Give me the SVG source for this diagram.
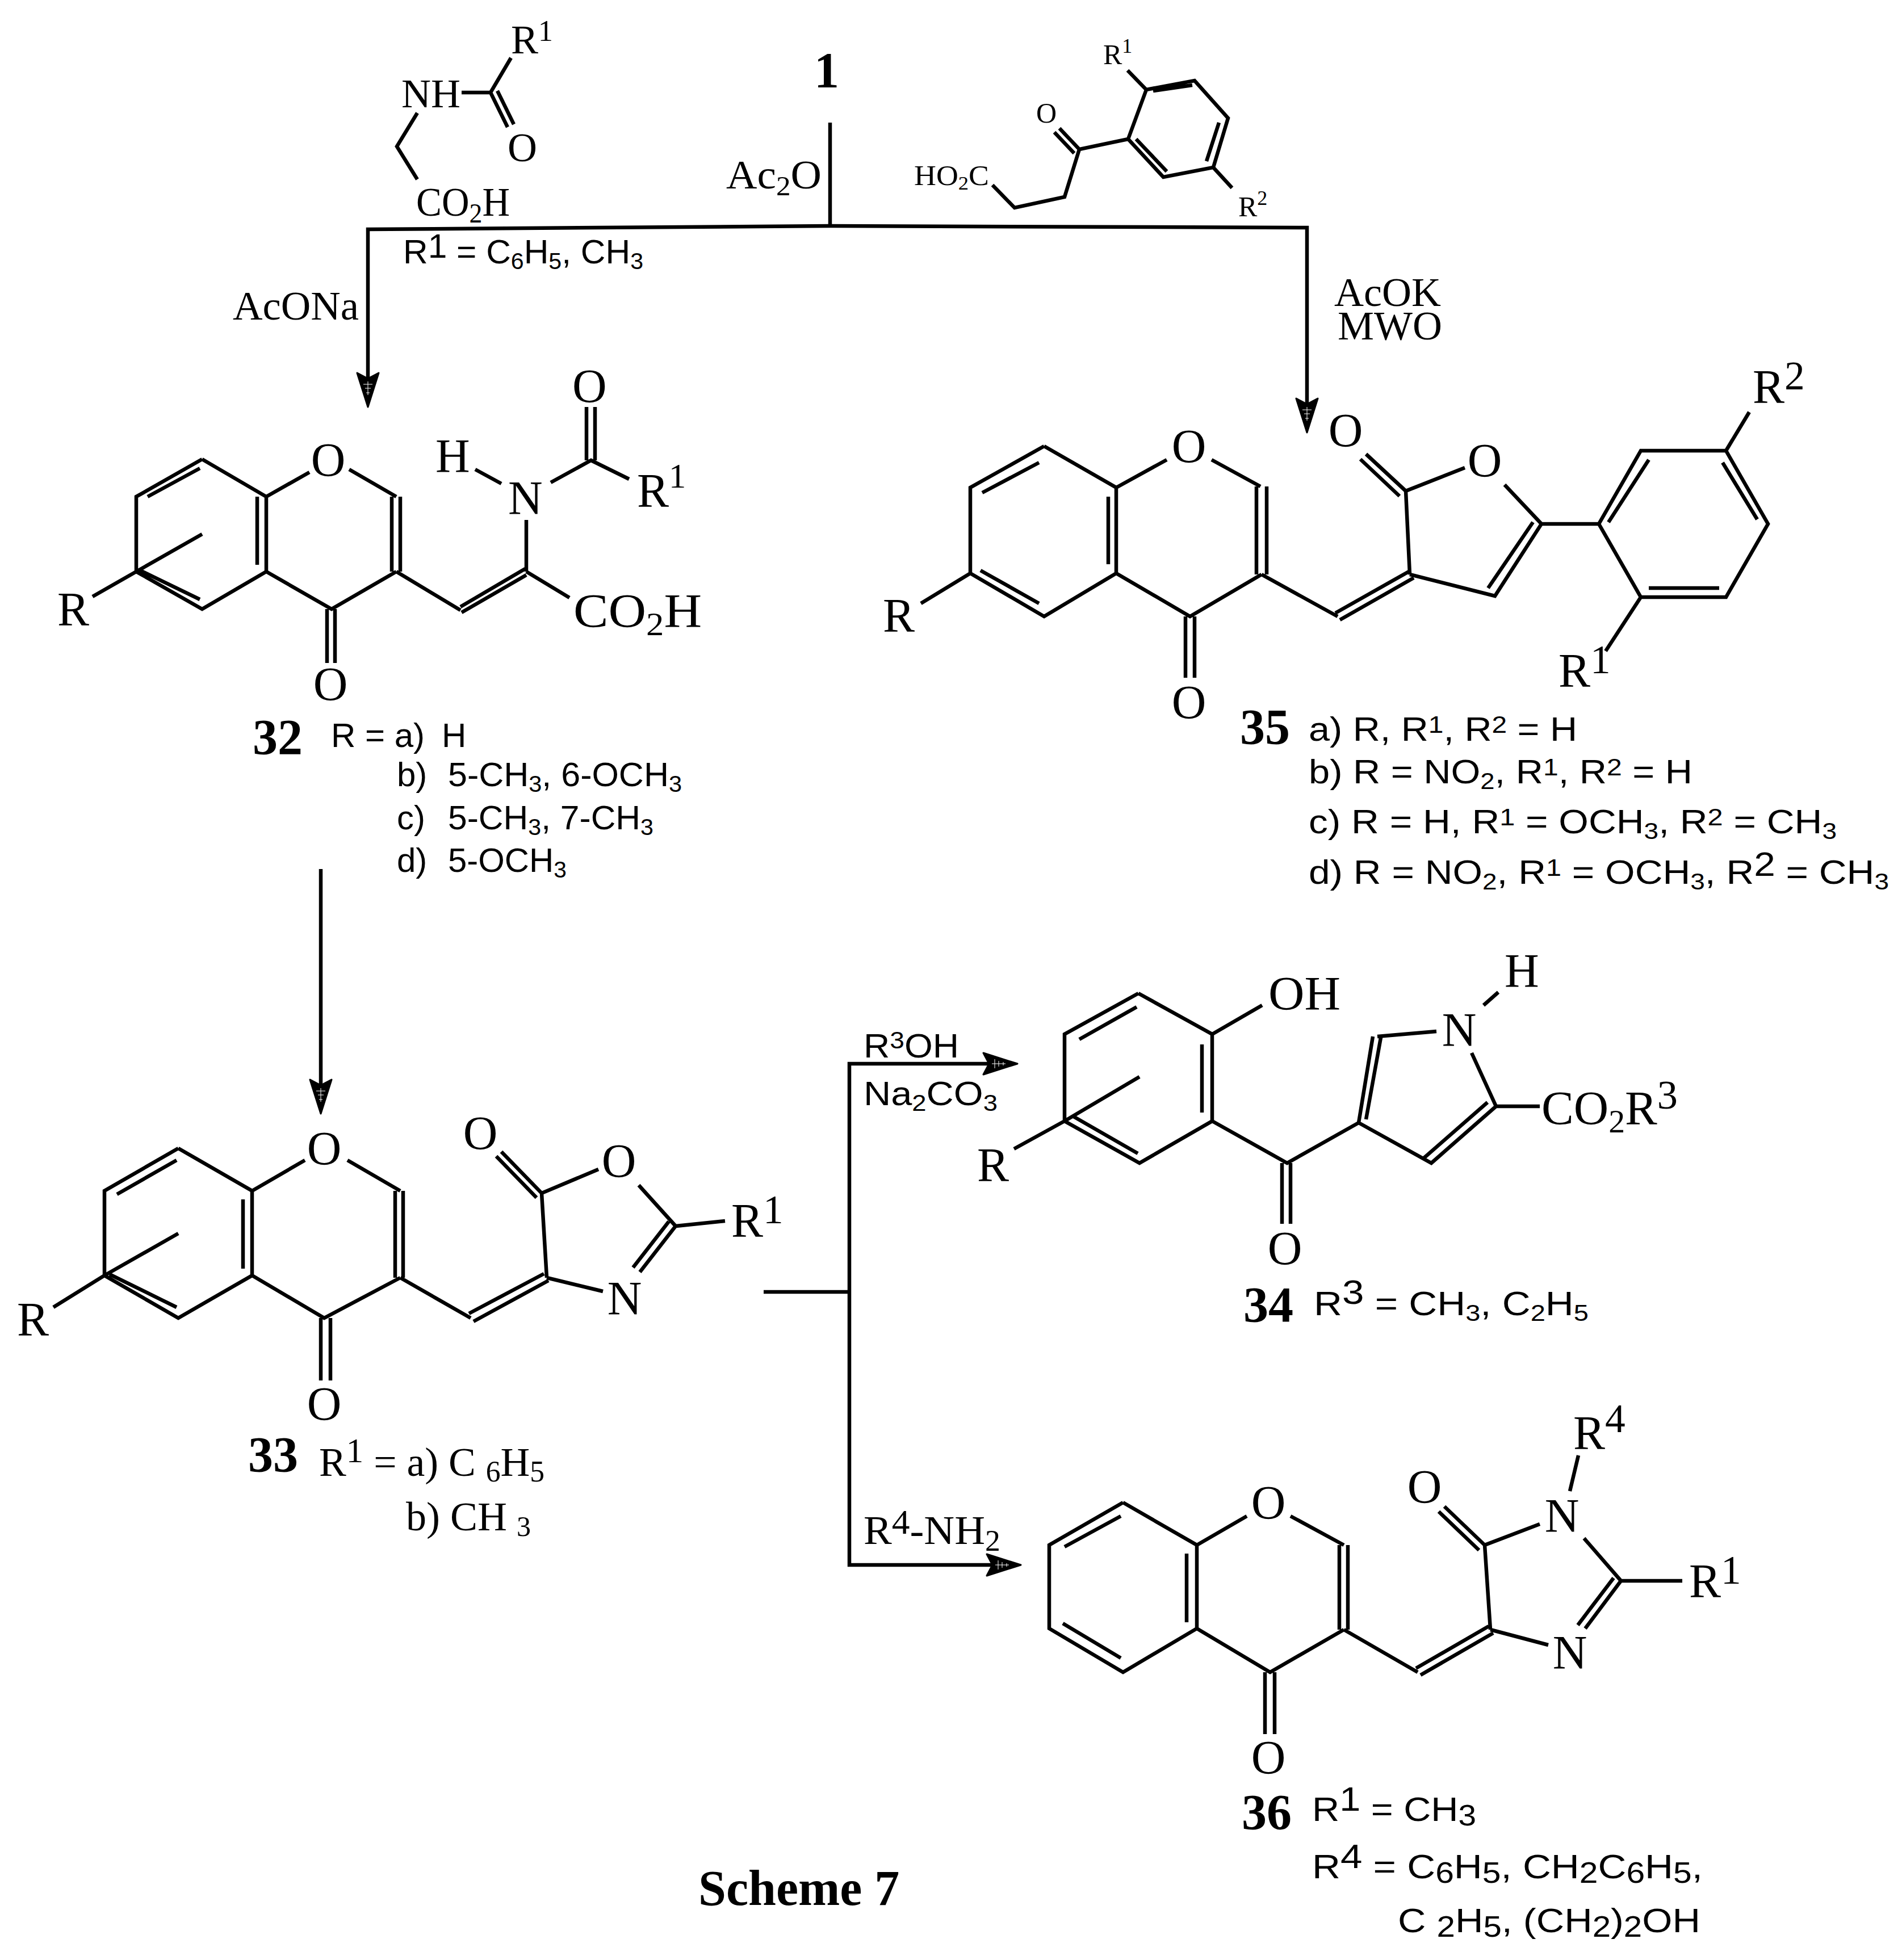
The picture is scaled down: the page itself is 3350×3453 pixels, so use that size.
<svg xmlns="http://www.w3.org/2000/svg" width="3350" height="3453" viewBox="0 0 3350 3453">
<style>
text{font-family:"Liberation Serif","Times New Roman",serif;fill:#000;font-size:84px}
.bond{fill:none;stroke:#000;stroke-width:6.5;stroke-linejoin:miter;stroke-linecap:butt}
.conn{fill:none;stroke:#000;stroke-width:6.5}
.arrow{marker-end:url(#head)}
.sm{font-size:72px}
.xs{font-size:50px}
.sans{font-family:"Liberation Sans",Arial,sans-serif;font-size:60px}
.lab{font-weight:bold;font-size:88px}
.m{text-anchor:middle}
.sub{font-size:.68em}
.sup{font-size:.72em}
.big{font-size:.85em}
</style>
<defs>
<marker id="head" markerUnits="userSpaceOnUse" orient="auto" refX="52" refY="20" markerWidth="66" markerHeight="44" overflow="visible">
<path d="M1,1 L61,20 L1,39 L11,20 Z" fill="#000" stroke="#000" stroke-width="3" stroke-linejoin="round"/>
<path d="M16,20 H40 M21,12 V28 M28,15 V25 M36,17 V23" stroke="#fff" stroke-width="1" fill="none"/>
</marker>
</defs>
<rect width="3350" height="3453" fill="#fff"/>

<g id="connectors">
<path class="conn" d="M1462,216 V398"/>
<path class="conn arrow" d="M1462,398 L648,404 V708"/>
<path class="conn arrow" d="M1462,398 L2302,401 V753"/>
<path class="conn arrow" d="M565,1531 V1953"/>
<path class="conn" d="M1345,2276 H1496"/>
<path class="conn arrow" d="M1496,2276 V1874 H1783"/>
<path class="conn arrow" d="M1496,2276 V2757 H1789"/>
</g>

<g id="start-1"><text class="lab m" x="1456" y="153">1</text></g>

<g id="cond-ac2o"><text class="sm" x="1279" y="332" textLength="168" lengthAdjust="spacingAndGlyphs">Ac<tspan class="sub" dy="12">2</tspan><tspan dy="-12">O</tspan></text></g>
<g id="cond-acona"><text class="sm" x="410" y="563" textLength="222" lengthAdjust="spacingAndGlyphs">AcONa</text></g>
<g id="cond-acok"><text class="sm" x="2350" y="539">AcOK</text><text class="sm" x="2356" y="598">MWO</text></g>
<g id="cond-r3oh"><text class="sans" x="1521" y="1863" textLength="168" lengthAdjust="spacingAndGlyphs">R<tspan class="sup" dy="-16">3</tspan><tspan dy="16">OH</tspan></text><text class="sans" x="1521" y="1947" textLength="236" lengthAdjust="spacingAndGlyphs">Na<tspan class="sub" dy="10">2</tspan><tspan dy="-10">CO</tspan><tspan class="sub" dy="10">3</tspan></text></g>
<g id="cond-r4nh2"><text class="sm" x="1521" y="2720" textLength="241" lengthAdjust="spacingAndGlyphs">R<tspan class="big" dy="-18">4</tspan><tspan dy="18">-NH</tspan><tspan class="sup" dy="12">2</tspan></text></g>

<g id="reagent-amide">
<path class="bond" d="M900,102 L864,163 H813 M735,199 L699,258 L735,316 M864,163 L894,224 M876,160 L905,219"/>
<text class="sm" x="900" y="94">R<tspan class="sup" dy="-22">1</tspan></text>
<text class="sm" x="707" y="189">NH</text>
<text class="sm" x="894" y="284">O</text>
<text class="sm" x="733" y="380" textLength="165" lengthAdjust="spacingAndGlyphs">CO<tspan class="sub" dy="12">2</tspan><tspan dy="-12">H</tspan></text>
<text class="sans" x="710" y="464" textLength="423" lengthAdjust="spacingAndGlyphs">R<tspan dy="-10">1</tspan><tspan dy="10"> = C</tspan><tspan class="sub" dy="10">6</tspan><tspan dy="-10">H</tspan><tspan class="sub" dy="10">5</tspan><tspan dy="-10">, CH</tspan><tspan class="sub" dy="10">3</tspan></text>
</g>

<g id="reagent-ketoacid">
<path class="bond" d="M1986,124 L2019,158 L2104,142 L2163,208 L2137,295 L2049,312 L1987,245 L2019,158 M2031,160 L2100,150 M2147,216 L2125,284 M2001,245 L2055,302 M1987,245 L1901,263 L1875,347 L1787,366 L1748,326 M1901,263 L1866,226 M1892,270 L1857,233 M2137,295 L2170,331"/>
<text class="xs" x="1943" y="113">R<tspan class="sup" dy="-20">1</tspan></text>
<text class="xs" x="1825" y="216">O</text>
<text class="xs" x="1610" y="326" textLength="132" lengthAdjust="spacingAndGlyphs">HO<tspan class="sub" dy="8">2</tspan><tspan dy="-8">C</tspan></text>
<text class="xs" x="2181" y="381">R<tspan class="sup" dy="-20">2</tspan></text>
</g>

<g id="compound-32">
<path class="bond" d="M356,809 L240,875 V1007 L356,1073 L469,1007 V875 L356,809 M260,875 L352,825 M247,1005 L352,1056 M453,875 V995 M240,1007 L356,941 M240,1007 L163,1051 M469,875 L545,832 M615,827 L698,875 M690,875 V1007 M705,875 V1007 M698,1007 L584,1073 L469,1007 M576,1073 V1168 M590,1073 V1168 M698,1007 L811,1075 M811,1069 L925,1002 M813,1079 L927,1013 M927,1007 L1003,1053 M927,1007 V916 M837,827 L883,852 M970,850 L1041,811 L1108,844 M1033,811 V717 M1048,811 V717"/>
<text class="m" x="578" y="839">O</text>
<text class="m" x="582" y="1234">O</text>
<text x="101" y="1102">R</text>
<text x="767" y="832">H</text>
<text x="895" y="906">N</text>
<text x="1008" y="709">O</text>
<text x="1122" y="893">R<tspan class="sup" dy="-34">1</tspan></text>
<text x="1010" y="1105" textLength="226" lengthAdjust="spacingAndGlyphs">CO<tspan class="sub" dy="14">2</tspan><tspan dy="-14">H</tspan></text>
<text class="lab" x="445" y="1328">32</text>
<text class="sans" x="583" y="1316">R = a)</text><text class="sans" x="778" y="1316">H</text>
<text class="sans" x="699" y="1385">b)</text><text class="sans" x="789" y="1385" textLength="412" lengthAdjust="spacingAndGlyphs">5-CH<tspan class="sub" dy="10">3</tspan><tspan dy="-10">, 6-OCH</tspan><tspan class="sub" dy="10">3</tspan></text>
<text class="sans" x="699" y="1461">c)</text><text class="sans" x="789" y="1461" textLength="362" lengthAdjust="spacingAndGlyphs">5-CH<tspan class="sub" dy="10">3</tspan><tspan dy="-10">, 7-CH</tspan><tspan class="sub" dy="10">3</tspan></text>
<text class="sans" x="699" y="1536">d)</text><text class="sans" x="789" y="1536" textLength="209" lengthAdjust="spacingAndGlyphs">5-OCH<tspan class="sub" dy="10">3</tspan></text>
</g>

<g id="compound-35">
<path class="bond" d="M1839,786 L1709,859 V1010 L1839,1086 L1966,1010 V859 L1839,786 M1730,868 L1830,815 M1727,1005 L1830,1063 M1952,875 V994 M1622,1063 L1709,1010 M1966,859 L2055,810 M2134,810 L2220,857 M2213,857 V1012 M2231,857 V1012 M2222,1012 L2096,1086 L1966,1010 M2088,1086 V1194 M2104,1086 V1194 M2222,1012 L2356,1086 M2483,1006 L2352,1080 M2490,1018 L2360,1092 M2483,1012 L2476,865 L2580,824 M2476,865 L2406,800 M2465,874 L2396,809 M2650,854 L2715,923 L2633,1050 L2483,1012 M2700,920 L2621,1036 M2715,923 H2816 L2890,794 H3040 L3114,923 L3040,1052 H2890 L2816,923 M2833,920 L2904,810 M3034,815 L3095,915 M2904,1036 H3028 M3040,794 L3081,726 M2890,1052 L2828,1147"/>
<text class="m" x="2094" y="815">O</text>
<text class="m" x="2094" y="1266">O</text>
<text class="m" x="2370" y="787">O</text>
<text class="m" x="2615" y="840">O</text>
<text x="1555" y="1113">R</text>
<text x="3087" y="710">R<tspan class="big" dy="-24">2</tspan></text>
<text x="2745" y="1210">R<tspan class="big" dy="-24">1</tspan></text>
<text class="lab" x="2184" y="1310">35</text>
<text class="sans" x="2305" y="1305" textLength="473" lengthAdjust="spacingAndGlyphs">a) R, R<tspan class="sup" dy="-14">1</tspan><tspan dy="14">, R</tspan><tspan class="sup" dy="-14">2</tspan><tspan dy="14"> = H</tspan></text>
<text class="sans" x="2305" y="1380" textLength="676" lengthAdjust="spacingAndGlyphs">b) R = NO<tspan class="sub" dy="10">2</tspan><tspan dy="-10">, R</tspan><tspan class="sup" dy="-14">1</tspan><tspan dy="14">, R</tspan><tspan class="sup" dy="-14">2</tspan><tspan dy="14"> = H</tspan></text>
<text class="sans" x="2305" y="1468" textLength="930" lengthAdjust="spacingAndGlyphs">c) R = H, R<tspan class="sup" dy="-14">1</tspan><tspan dy="14"> = OCH</tspan><tspan class="sub" dy="10">3</tspan><tspan dy="-10">, R</tspan><tspan class="sup" dy="-14">2</tspan><tspan dy="14"> = CH</tspan><tspan class="sub" dy="10">3</tspan></text>
<text class="sans" x="2305" y="1557" textLength="1022" lengthAdjust="spacingAndGlyphs">d) R = NO<tspan class="sub" dy="10">2</tspan><tspan dy="-10">, R</tspan><tspan class="sup" dy="-14">1</tspan><tspan dy="14"> = OCH</tspan><tspan class="sub" dy="10">3</tspan><tspan dy="-10">, R</tspan><tspan dy="-14">2</tspan><tspan dy="14"> = CH</tspan><tspan class="sub" dy="10">3</tspan></text>
</g>

<g id="compound-33">
<path class="bond" d="M314,2023 L184,2098 V2247 L314,2322 L444,2247 V2098 L314,2023 M206,2104 L311,2044 M193,2245 L311,2303 M428,2113 V2235 M184,2247 L314,2173 M184,2247 L94,2303 M444,2098 L537,2044 M612,2044 L705,2098 M696,2098 V2251 M710,2098 V2251 M705,2251 L571,2322 L444,2247 M565,2322 V2432 M582,2322 V2432 M705,2251 L829,2322 M958,2244 L826,2314 M966,2256 L834,2328 M963,2251 L954,2102 L1054,2060 M954,2102 L883,2029 M945,2110 L874,2037 M1125,2088 L1190,2160 L1277,2151 M1190,2160 L1127,2241 M1178,2152 L1115,2233 M963,2251 L1062,2275"/>
<text class="m" x="571" y="2052">O</text>
<text class="m" x="571" y="2502">O</text>
<text class="m" x="846" y="2025">O</text>
<text class="m" x="1090" y="2074">O</text>
<text class="m" x="1100" y="2316">N</text>
<text x="30" y="2353">R</text>
<text x="1288" y="2179">R<tspan class="big" dy="-24">1</tspan></text>
<text class="lab" x="437" y="2592">33</text>
<text class="sm" x="562" y="2600" textLength="397" lengthAdjust="spacingAndGlyphs">R<tspan class="big" dy="-24">1</tspan><tspan dy="24"> = a) C </tspan><tspan class="sup" dy="10">6</tspan><tspan dy="-10">H</tspan><tspan class="sup" dy="10">5</tspan></text>
<text class="sm" x="715" y="2696">b) CH</text><text x="910" y="2706" style="font-size:50px">3</text>
</g>

<g id="compound-34">
<path class="bond" d="M2005,1750 L1875,1822 V1975 L2007,2049 L2135,1975 V1822 L2005,1750 M1901,1831 L2002,1774 M1889,1966 L2004,2032 M2117,1840 V1960 M1875,1975 L2007,1897 M1875,1975 L1786,2024 M2135,1822 L2223,1771 M2135,1975 L2267,2049 L2393,1978 M2258,2049 V2156 M2273,2049 V2156 M2418,1826 L2393,1978 M2432,1828 L2406,1972 M2426,1826 L2530,1817 M2393,1978 L2521,2049 L2635,1949 M2508,2040 L2620,1942 M2592,1855 L2635,1949 H2712 M2613,1771 L2639,1748"/>
<text x="2234" y="1779" textLength="127" lengthAdjust="spacingAndGlyphs">OH</text>
<text x="1721" y="2081">R</text>
<text class="m" x="2263" y="2228">O</text>
<text class="m" x="2570" y="1843">N</text>
<text x="2650" y="1739">H</text>
<text x="2715" y="1981" textLength="240" lengthAdjust="spacingAndGlyphs">CO<tspan class="sub" dy="14">2</tspan><tspan dy="-14">R</tspan><tspan class="big" dy="-28">3</tspan></text>
<text class="lab" x="2190" y="2328">34</text>
<text class="sans" x="2314" y="2317" textLength="484" lengthAdjust="spacingAndGlyphs">R<tspan dy="-20">3</tspan><tspan dy="20">  = CH</tspan><tspan class="sub" dy="10">3</tspan><tspan dy="-10">, C</tspan><tspan class="sub" dy="10">2</tspan><tspan dy="-10">H</tspan><tspan class="sub" dy="10">5</tspan></text>
</g>

<g id="compound-36">
<path class="bond" d="M1978,2647 L1848,2722 V2869 L1978,2946 L2108,2869 V2722 L1978,2647 M1875,2725 L1974,2671 M1872,2860 L1974,2921 M2090,2737 V2858 M2108,2722 L2196,2671 M2273,2671 L2367,2722 M2359,2722 V2871 M2374,2722 V2871 M2367,2871 L2237,2946 L2108,2869 M2228,2946 V3055 M2245,2946 V3055 M2367,2871 L2497,2946 M2622,2865 L2494,2939 M2630,2877 L2502,2951 M2625,2871 L2615,2722 L2712,2685 M2615,2722 L2544,2654 M2605,2731 L2534,2663 M2780,2564 L2765,2627 M2790,2710 L2855,2785 H2963 M2855,2785 L2792,2869 M2842,2780 L2779,2863 M2625,2871 L2727,2898"/>
<text class="m" x="2234" y="2676">O</text>
<text class="m" x="2234" y="3125">O</text>
<text class="m" x="2509" y="2648">O</text>
<text class="m" x="2751" y="2699">N</text>
<text class="m" x="2765" y="2940">N</text>
<text x="2771" y="2553">R<tspan class="big" dy="-30">4</tspan></text>
<text x="2975" y="2814">R<tspan class="big" dy="-24">1</tspan></text>
<text class="lab" x="2187" y="3222">36</text>
<text class="sans" x="2311" y="3208" textLength="289" lengthAdjust="spacingAndGlyphs">R<tspan dy="-18">1</tspan><tspan dy="18"> = CH</tspan><tspan class="big" dy="8">3</tspan></text>
<text class="sans" x="2311" y="3309" textLength="688" lengthAdjust="spacingAndGlyphs">R<tspan dy="-18">4</tspan><tspan dy="18"> = C</tspan><tspan class="big" dy="8">6</tspan><tspan dy="-8">H</tspan><tspan class="big" dy="8">5</tspan><tspan dy="-8">, CH</tspan><tspan class="big" dy="8">2</tspan><tspan dy="-8">C</tspan><tspan class="big" dy="8">6</tspan><tspan dy="-8">H</tspan><tspan class="big" dy="8">5</tspan><tspan dy="-8">,</tspan></text>
<text class="sans" x="2462" y="3404" textLength="533" lengthAdjust="spacingAndGlyphs">C <tspan class="big" dy="8">2</tspan><tspan dy="-8">H</tspan><tspan class="big" dy="8">5</tspan><tspan dy="-8">, (CH</tspan><tspan class="big" dy="8">2</tspan><tspan dy="-8">)</tspan><tspan class="big" dy="8">2</tspan><tspan dy="-8">OH</tspan></text>
</g>

<g id="caption"><text class="lab" x="1230" y="3356">Scheme 7</text></g>
</svg>
